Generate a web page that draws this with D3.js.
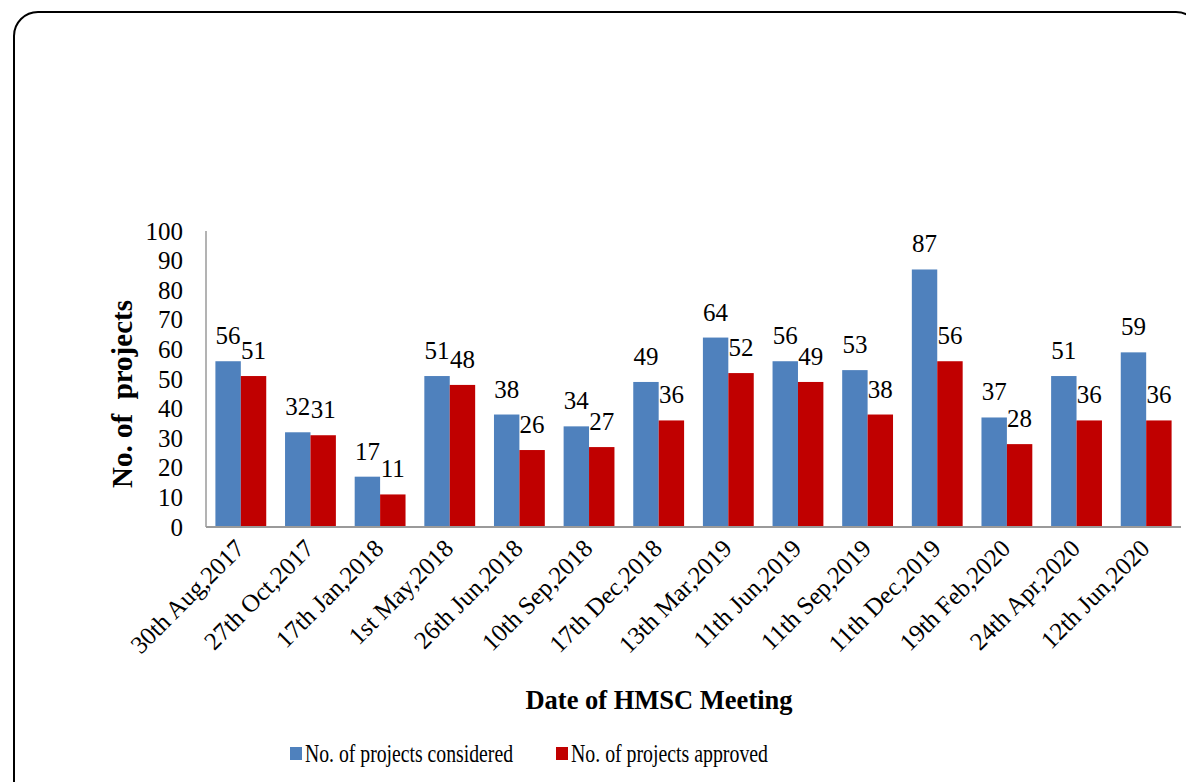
<!DOCTYPE html>
<html>
<head>
<meta charset="utf-8">
<script src="https://cdn.jsdelivr.net/npm/d3@7"></script>
<style>
    body { margin: 0; background: #fff; }
    svg text { font-family: "Liberation Serif", "Times New Roman", serif; fill: #000; }
</style>
</head>
<body>
<div id="chart"></div>
<script>
// data
let dates = ["30th Aug,2017", "27th Oct,2017", "17th Jan,2018", "1st May,2018", "26th Jun,2018",
    "10th Sep,2018", "17th Dec,2018", "13th Mar,2019", "11th Jun,2019", "11th Sep,2019",
    "11th Dec,2019", "19th Feb,2020", "24th Apr,2020", "12th Jun,2020"];
let considered = [56, 32, 17, 51, 38, 34, 49, 64, 56, 53, 87, 37, 51, 59];
let approved = [51, 31, 11, 48, 26, 27, 36, 52, 49, 38, 56, 28, 36, 36];
let seriesNames = ["No. of projects considered", "No. of projects approved"];
let yTicks = [0, 10, 20, 30, 40, 50, 60, 70, 80, 90, 100];

let colors = ["#4F81BD", "#C00000"];

let width = 1186, height = 782;

let svg = d3.select("#chart").append("svg")
    .attr("width", width)
    .attr("height", height);

// rounded frame
svg.append("rect")
    .attr("x", 14).attr("y", 12)
    .attr("width", 1186).attr("height", 800)
    .attr("rx", 24).attr("ry", 24)
    .attr("fill", "none")
    .attr("stroke", "#000")
    .attr("stroke-width", 2);

let data = dates.map((d, i) => ({date: d, values: [considered[i], approved[i]]}));

let x = d3.scaleBand()
    .domain(dates)
    .range([206, 1181])
    .paddingInner(0.27)
    .paddingOuter(0.135);

let x1 = d3.scaleBand()
    .domain([0, 1])
    .range([0, x.bandwidth()]);

let y = d3.scaleLinear()
    .domain([0, 100])
    .range([527, 231]);

// y axis line
svg.append("line")
    .attr("x1", 206).attr("x2", 206)
    .attr("y1", y(100)).attr("y2", y(0))
    .attr("stroke", "#9a9a9a").attr("stroke-width", 1.5);

// y tick labels
svg.append("g")
    .selectAll("text")
    .data(yTicks)
    .enter()
    .append("text")
    .attr("x", 183)
    .attr("y", d => y(d) + 8.5)
    .attr("text-anchor", "end")
    .attr("font-size", 25)
    .text(d => d);

// bars
let groups = svg.append("g")
    .selectAll("g")
    .data(data)
    .enter()
    .append("g")
    .attr("transform", d => "translate(" + x(d.date) + ",0)");

groups.selectAll("rect")
    .data(d => d.values)
    .enter()
    .append("rect")
    .attr("x", (d, i) => x1(i))
    .attr("y", d => y(d))
    .attr("width", x1.bandwidth())
    .attr("height", d => y(0) - y(d))
    .attr("fill", (d, i) => colors[i]);

groups.selectAll("text")
    .data(d => d.values)
    .enter()
    .append("text")
    .attr("x", (d, i) => x1(i) + x1.bandwidth() / 2)
    .attr("y", d => y(d) - 17)
    .attr("text-anchor", "middle")
    .attr("font-size", 25)
    .text(d => d);

// x axis line
svg.append("line")
    .attr("x1", 206).attr("x2", 1181)
    .attr("y1", y(0)).attr("y2", y(0))
    .attr("stroke", "#9a9a9a").attr("stroke-width", 2);

// x tick labels
svg.append("g")
    .selectAll("text")
    .data(dates)
    .enter()
    .append("text")
    .attr("transform", d => "translate(" + (x(d) + x.bandwidth() / 2 + 5) + ",550) rotate(-45)")
    .attr("text-anchor", "end")
    .attr("font-size", 25)
    .text(d => d);

// axis titles
svg.append("text")
    .attr("transform", "translate(132,394) rotate(-90)")
    .attr("text-anchor", "middle")
    .attr("font-size", 29)
    .attr("font-weight", "bold")
    .attr("xml:space", "preserve")
    .text("No. of  projects");

svg.append("text")
    .attr("x", 659)
    .attr("y", 709)
    .attr("text-anchor", "middle")
    .attr("font-size", 26.5)
    .attr("font-weight", "bold")
    .text("Date of HMSC Meeting");

// legend
let legendX = [290, 556];
let legendLen = [208, 197];
let legend = svg.append("g")
    .selectAll("g")
    .data(seriesNames)
    .enter()
    .append("g")
    .attr("transform", (d, i) => "translate(" + legendX[i] + ",747)");

legend.append("rect")
    .attr("width", 12).attr("height", 13)
    .attr("fill", (d, i) => colors[i]);

legend.append("text")
    .attr("x", 15)
    .attr("y", 15)
    .attr("font-size", 25)
    .attr("textLength", (d, i) => legendLen[i])
    .attr("lengthAdjust", "spacingAndGlyphs")
    .text(d => d);
</script>
</body>
</html>
